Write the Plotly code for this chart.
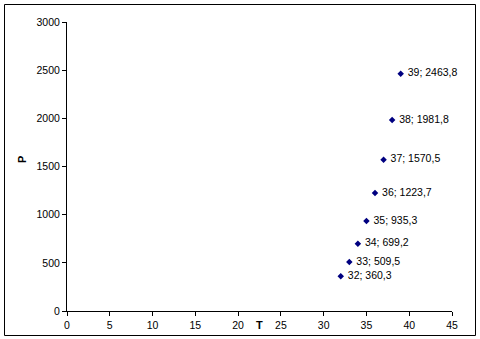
import plotly.graph_objects as go

T = [32, 33, 34, 35, 36, 37, 38, 39]
P = [360.3, 509.5, 699.2, 935.3, 1223.7, 1570.5, 1981.8, 2463.8]
labels = [f"{t}; {str(p).replace('.', ',')}" for t, p in zip(T, P)]

W, H = 480, 339
L, R, TOP, B = 67, 452, 22, 311  # plot area pixel edges
FONT = "Liberation Sans"

fig = go.Figure()
fig.add_trace(go.Scatter(
    x=T, y=P, mode="markers+text", text=[" " + s for s in labels],
    textposition="middle right",
    marker=dict(symbol="diamond", size=5, color="#000080"),
    textfont=dict(family=FONT, size=10.5, color="black"),
    cliponaxis=False, showlegend=False,
))

def px(xpix):
    return (xpix - L) / (R - L)

def py(ypix):
    return (B - ypix) / (B - TOP)

fig.update_layout(
    width=W, height=H,
    margin=dict(l=L, r=W - R, t=TOP, b=H - B, pad=0),
    paper_bgcolor="white", plot_bgcolor="white",
    font=dict(family=FONT, size=10.5, color="black"),
    xaxis=dict(range=[0, 45], tickvals=list(range(0, 50, 5)), showline=True,
               linecolor="black", linewidth=1, ticks="outside", ticklen=4,
               tickcolor="black", showgrid=False, zeroline=False, automargin=False),
    yaxis=dict(range=[0, 3000], tickvals=list(range(0, 3500, 500)), showline=True,
               linecolor="black", linewidth=1, ticks="outside", ticklen=4,
               tickcolor="black", showgrid=False, zeroline=False, automargin=False),
    shapes=[dict(type="rect", xref="paper", yref="paper",
                 x0=px(4.5), x1=px(475.5), y0=py(335.5), y1=py(4.5),
                 line=dict(color="black", width=1))],
    annotations=[
        dict(text="<b>T</b>", x=22.5, xref="x", y=py(325), yref="paper",
             xanchor="center", yanchor="middle",
             showarrow=False, font=dict(size=11)),
        dict(text="<b>P</b>", x=px(22), xref="paper", y=py(160), yref="paper",
             xanchor="center", yanchor="middle",
             showarrow=False, textangle=-90, font=dict(size=11)),
    ],
)
fig.write_html("out.html")
